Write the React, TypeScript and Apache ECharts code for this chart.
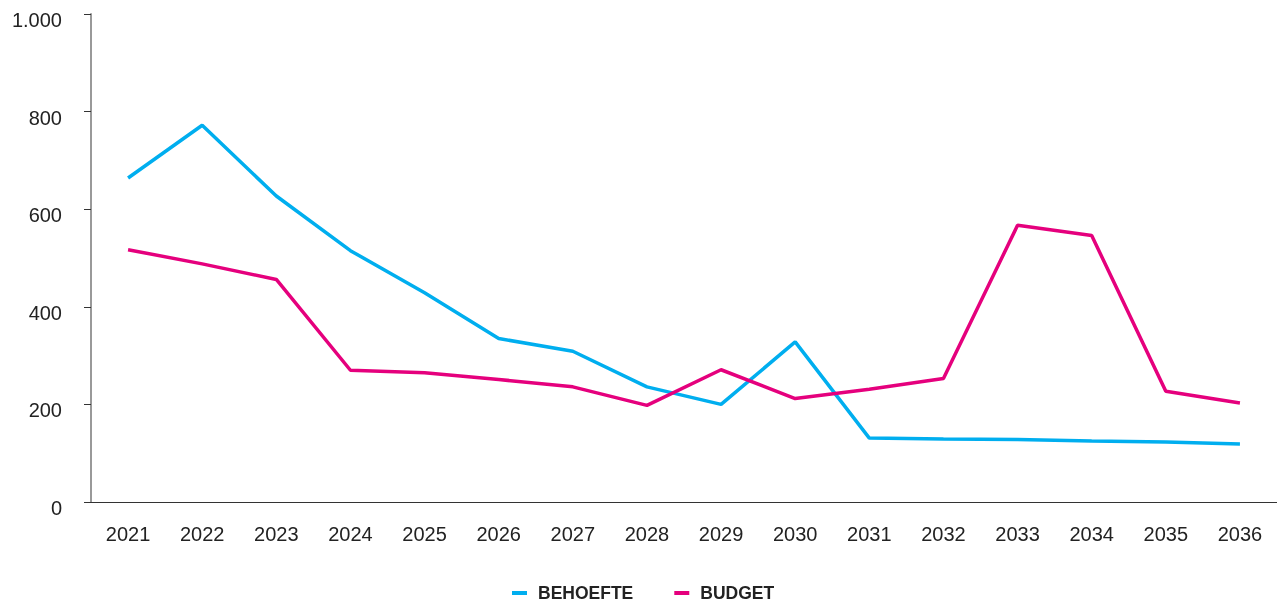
import React, { useEffect, useRef } from "react";
import * as echarts from "echarts";

const years = ["2021", "2022", "2023", "2024", "2025", "2026", "2027", "2028", "2029", "2030", "2031", "2032", "2033", "2034", "2035", "2036"];
const behoefte = [664, 772, 627, 515, 429, 335, 309, 236, 200, 328, 131, 129, 128, 125, 123, 119];
const budget = [517, 488, 456, 270, 265, 251, 236, 198, 271, 212, 231, 253, 567, 546, 227, 203];
const yTicks = { min: 0, max: 1000, interval: 200 };

const FONT = "'Liberation Sans', Arial, sans-serif";

export default function App() {
  const ref = useRef<HTMLDivElement>(null);
  useEffect(() => {
    if (!ref.current) return;
    const chart = echarts.init(ref.current, undefined, { renderer: "svg" });
    chart.setOption({
      animation: false,
      textStyle: { fontFamily: FONT },
      grid: { left: 91, right: -3, top: 14, bottom: 101, containLabel: false },
      legend: {
        left: 507,
        top: 579,
        icon: "rect",
        itemWidth: 15,
        itemHeight: 4,
        itemGap: 41,
        textStyle: { fontFamily: FONT, fontSize: 17.5, fontWeight: "bold", color: "#222", padding: [0, 0, 0, 6] },
        data: ["BEHOEFTE", "BUDGET"],
      },
      xAxis: {
        type: "category",
        data: years,
        boundaryGap: true,
        axisLine: { lineStyle: { color: "#333", width: 1.2 } },
        axisTick: { show: false },
        axisLabel: { fontFamily: FONT, fontSize: 20, color: "#222", margin: 22 },
      },
      yAxis: {
        type: "value",
        min: yTicks.min,
        max: yTicks.max,
        interval: yTicks.interval,
        splitLine: { show: false },
        axisLine: { show: true, lineStyle: { color: "#999", width: 2 } },
        axisTick: { show: true, length: 7, lineStyle: { color: "#333", width: 1 } },
        axisLabel: {
          fontFamily: FONT,
          fontSize: 20,
          color: "#222",
          margin: 29,
          verticalAlign: "top",
          lineHeight: 12,
          formatter: (v: number) => v.toString().replace(/\B(?=(\d{3})+(?!\d))/g, "."),
        },
      },
      series: [
        {
          name: "BEHOEFTE",
          type: "line",
          data: behoefte,
          symbol: "none",
          lineStyle: { color: "#00AEEF", width: 3.5 },
          itemStyle: { color: "#00AEEF" },
        },
        {
          name: "BUDGET",
          type: "line",
          data: budget,
          symbol: "none",
          lineStyle: { color: "#E5007D", width: 3.5 },
          itemStyle: { color: "#E5007D" },
        },
      ],
    });
    return () => chart.dispose();
  }, []);
  return <div ref={ref} style={{ position: "fixed", left: 0, top: 0, width: 1277, height: 603 }} />;
}
